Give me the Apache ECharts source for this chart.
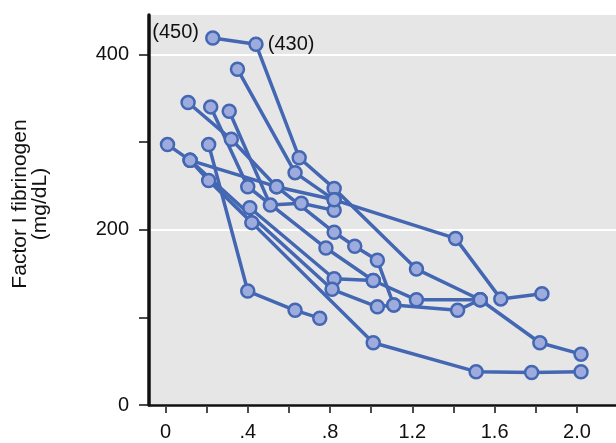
<!DOCTYPE html>
<html>
<head>
<meta charset="utf-8">
<script src="https://cdn.jsdelivr.net/npm/echarts@6/dist/echarts.min.js"></script>
<style>
  html, body { margin: 0; padding: 0; background: #ffffff; }
  #chart { width: 616px; height: 443px; }
</style>
</head>
<body>
<div id="chart"></div>
<script>
// Fibrinogen (mg/dL) against time for each patient trace
const ptA_t = [0.23, 0.44, 0.65, 0.82, 1.22, 1.53, 1.82, 2.02];
const ptA_f = [450, 430, 282, 247, 155, 120, 71, 58];
const ptB_t = [0.35, 0.63, 0.82, 1.41, 1.63, 1.83];
const ptB_f = [383, 265, 234, 190, 121, 127];
const ptC_t = [0.01, 0.12, 0.21, 0.42, 1.01, 1.51, 1.78, 2.02];
const ptC_f = [297, 279, 256, 208, 71, 38, 37, 38];
const ptD_t = [0.21, 0.40, 0.63, 0.75];
const ptD_f = [297, 130, 108, 99];
const ptE_t = [0.11, 0.32, 0.54, 0.82, 0.92, 1.03, 1.11, 1.42, 1.53];
const ptE_f = [345, 303, 249, 197, 181, 165, 114, 108, 120];
const ptF_t = [0.22, 0.40, 0.78, 1.01, 1.22, 1.53];
const ptF_f = [340, 249, 179, 142, 120, 120];
const ptG_t = [0.31, 0.51, 0.66, 0.82];
const ptG_f = [335, 228, 230, 222];
const ptH_t = [0.41, 0.82, 1.01];
const ptH_f = [225, 144, 142];
const ptI_t = [0.12, 0.81, 1.03, 1.11];
const ptI_f = [279, 132, 112, 114];
const ptJ_t = [0.12, 0.54, 0.82];
const ptJ_f = [279, 249, 234];

// Axis ticks and labels
const xTickValues = [0, 0.2, 0.4, 0.6, 0.8, 1.0, 1.2, 1.4, 1.6, 1.8, 2.0];
const xLabelValues = [0, 0.4, 0.8, 1.2, 1.6, 2.0];
const yTickValues = [0, 100, 200, 300, 400];
const yLabelValues = [0, 200, 400];
const yTitle = 'Factor I fibrinogen\n(mg/dL)';

// Values above the scale top are squeezed into a short band and labelled
const scaleTop = 400;

const traces = [
  [ptA_t, ptA_f], [ptB_t, ptB_f], [ptC_t, ptC_f], [ptD_t, ptD_f], [ptE_t, ptE_f],
  [ptF_t, ptF_f], [ptG_t, ptG_f], [ptH_t, ptH_f], [ptI_t, ptI_f], [ptJ_t, ptJ_f]
];

const LINE = '#4467b4';
const FILL = '#9eabdd';
const FONT = 'Liberation Sans, Arial, Helvetica, sans-serif';

function fmtX(v) {
  if (v === 0) return '0';
  const s = v.toFixed(1);
  return v < 1 ? s.slice(1) : s;
}

const series = [];
traces.forEach(([t, f]) => {
  series.push({
    type: 'line', xAxisIndex: 0, yAxisIndex: 1,
    data: t.map((x, i) => [x, f[i]]),
    showSymbol: false, symbol: 'none', z: 2, silent: true,
    lineStyle: { color: LINE, width: 3.5 }
  });
});
traces.forEach(([t, f]) => {
  let offIdx = 0;
  series.push({
    type: 'scatter', xAxisIndex: 0, yAxisIndex: 1, z: 3, silent: true,
    symbol: 'circle', symbolSize: 13,
    itemStyle: { color: FILL, borderColor: LINE, borderWidth: 2.5, opacity: 1 },
    data: t.map((x, i) => {
      const item = { value: [x, f[i]] };
      if (f[i] > scaleTop) {
        const first = offIdx++ === 0;
        item.label = {
          show: true,
          formatter: '(' + f[i] + ')',
          position: first ? 'left' : 'right',
          distance: first ? 6 : 4,
          offset: first ? [0, -5] : [0, 0],
          fontSize: 20, fontFamily: FONT, color: '#111'
        };
      }
      return item;
    })
  });
});

const chart = echarts.init(document.getElementById('chart'), null, { renderer: 'canvas' });
chart.setOption({
  animation: false,
  backgroundColor: '#ffffff',
  grid: [
    { left: 149, right: 0, top: 15, bottom: 38, show: true, backgroundColor: '#e6e6e6', borderWidth: 0,
      containLabel: false, outerBoundsMode: 'none' },
    { left: 149, right: 0, top: 15, bottom: 36, show: false, containLabel: false, outerBoundsMode: 'none' }
  ],
  graphic: [{
    type: 'text', x: 30, y: 204, rotation: Math.PI / 2, silent: true,
    style: {
      text: yTitle, fontSize: 21, fontFamily: FONT, fill: '#111',
      align: 'center', verticalAlign: 'middle', lineHeight: 20
    }
  }],
  xAxis: [
    {
      gridIndex: 0, type: 'value', min: -0.08, max: 2.19,
      axisLine: { show: true, onZero: false, lineStyle: { color: '#111', width: 2.5 } },
      axisTick: { show: false }, axisLabel: { show: false }, splitLine: { show: false }
    },
    {
      gridIndex: 1, type: 'value', min: -0.08, max: 2.19, position: 'bottom',
      axisLine: { show: false, onZero: false },
      axisTick: { show: true, customValues: xTickValues, length: 6, lineStyle: { color: '#111', width: 1.5 } },
      axisLabel: { show: true, customValues: xLabelValues, formatter: fmtX, margin: 15,
                   fontSize: 20, fontFamily: FONT, color: '#111' },
      splitLine: { show: false }
    }
  ],
  yAxis: [
    {
      gridIndex: 0, type: 'value', min: 0, max: 444.8, position: 'left',
      axisLine: { show: true, onZero: false, lineStyle: { color: '#111', width: 3.5 } },
      axisTick: { show: true, customValues: yTickValues, length: 10, lineStyle: { color: '#111', width: 1.5 } },
      axisLabel: { show: true, customValues: yLabelValues, margin: 20,
                   fontSize: 20, fontFamily: FONT, color: '#111' },
      splitLine: { show: false }
    },
    {
      gridIndex: 0, type: 'value', min: 0, max: 476.2, show: false,
      breaks: [{ start: 401, end: 450, gap: 17.6 }],
      breakArea: { show: false, expandOnClick: false }
    },
    {
      gridIndex: 0, type: 'value', min: 0, max: 444.8, interval: 200,
      axisLine: { show: false }, axisTick: { show: false }, axisLabel: { show: false },
      splitLine: { show: true, showMinLine: false, showMaxLine: false, lineStyle: { color: '#ffffff', width: 2 } }
    },
    { gridIndex: 1, type: 'value', show: false }
  ],
  series: series
});
</script>
</body>
</html>
